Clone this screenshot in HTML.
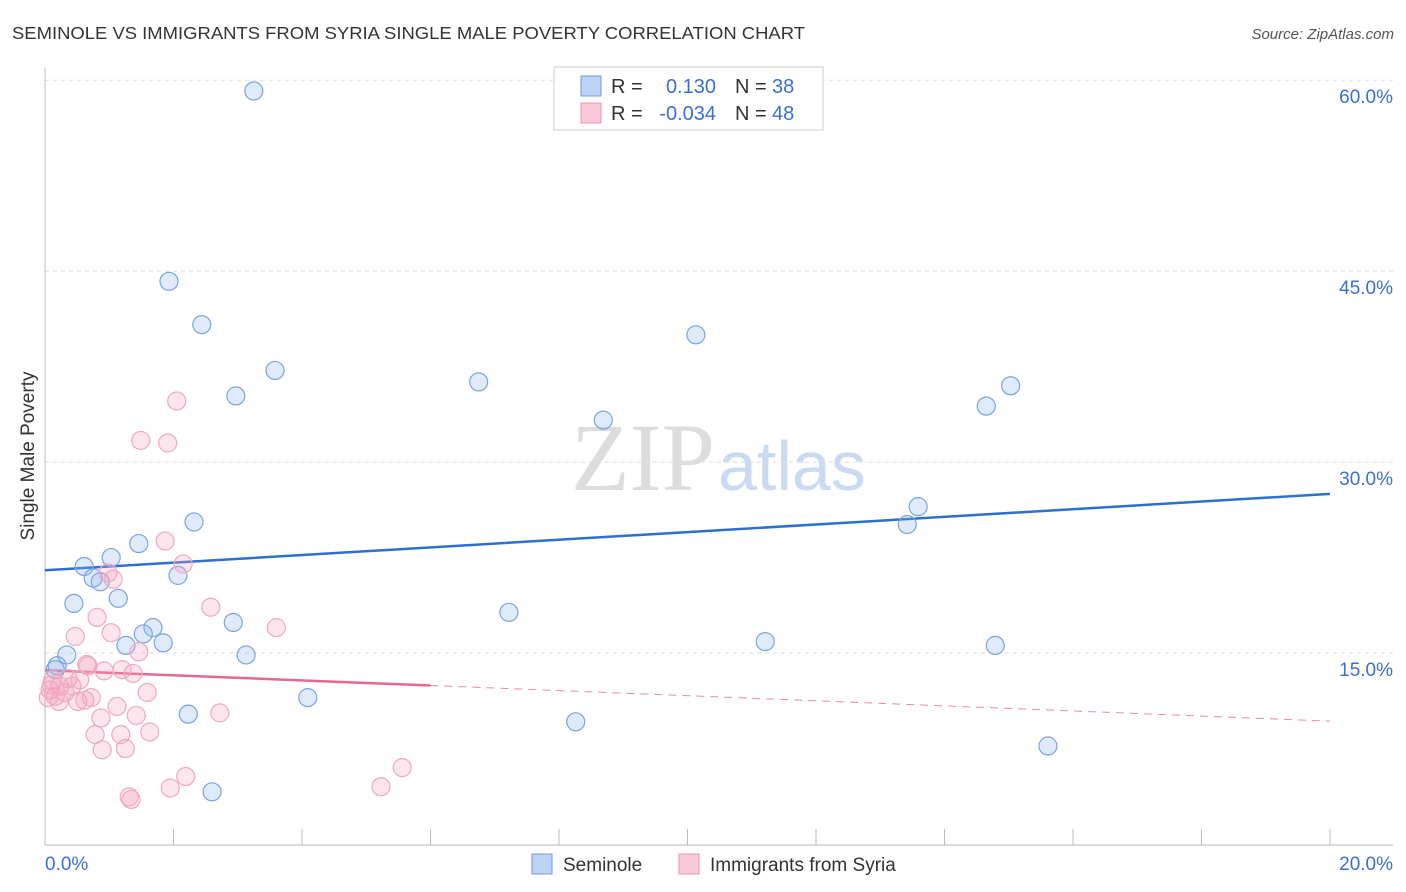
<!DOCTYPE html>
<html><head><meta charset="utf-8"><style>
body{margin:0;background:#fff;font-family:"Liberation Sans",sans-serif;}
svg{display:block}
</style></head><body>
<svg width="1406" height="892" xmlns="http://www.w3.org/2000/svg">
<text x="12" y="39" font-size="17.5" fill="#333" textLength="793" lengthAdjust="spacingAndGlyphs">SEMINOLE VS IMMIGRANTS FROM SYRIA SINGLE MALE POVERTY CORRELATION CHART</text>
<text x="1394" y="39" font-size="15" fill="#555" font-style="italic" text-anchor="end">Source: ZipAtlas.com</text>
<text x="715" y="490" font-size="96" fill="#ddd" text-anchor="end" font-family="Liberation Serif,serif">ZIP</text>
<text x="718" y="490" font-size="70" fill="#c9daf2">atlas</text>
<g id="grid"></g>
<g id="axes"></g>
<text transform="translate(34,456) rotate(-90)" font-size="19" fill="#333" text-anchor="middle">Single Male Poverty</text>
<text x="45" y="870" font-size="19" fill="#3b6fd4">0.0%</text>
<text x="1393" y="870" font-size="19" fill="#3b6fd4" text-anchor="end">20.0%</text>
<g id="trend"></g>
<g id="pts"></g>
<g>
<rect x="554" y="67" width="269" height="63" fill="#fff" stroke="#ccc"/>
<rect x="581" y="76" width="20" height="20" fill="#bcd3f5" stroke="#6d9be0"/>
<rect x="581" y="103" width="20" height="20" fill="#f9c9d7" stroke="#ec97b2"/>
<text x="611" y="93" font-size="20" fill="#333">R = </text><text x="716" y="93" font-size="20" fill="#3b6fd4" text-anchor="end">0.130</text>
<text x="735" y="93" font-size="20" fill="#333">N = </text><text x="772" y="93" font-size="20" fill="#3b6fd4">38</text>
<text x="611" y="120" font-size="20" fill="#333">R = </text><text x="716" y="120" font-size="20" fill="#3b6fd4" text-anchor="end">-0.034</text>
<text x="735" y="120" font-size="20" fill="#333">N = </text><text x="772" y="120" font-size="20" fill="#3b6fd4">48</text>
</g>
<g><rect x="532" y="854" width="20" height="20" fill="#bcd3f5" stroke="#6d9be0"/><text x="563" y="871" font-size="19" fill="#333">Seminole</text></g>
<g><rect x="679" y="854" width="20" height="20" fill="#f9c9d7" stroke="#ec97b2"/><text x="710" y="871" font-size="19" fill="#333">Immigrants from Syria</text></g>
</svg>
<script>
const yTicks=[15,30,45,60];
const xTicks=[0,2,4,6,8,10,12,14,16,18,20];
const blueX=[3.25,1.93,2.44,3.58,2.97,6.75,10.13,8.69,14.65,15.03,13.59,13.42,2.32,1.46,1.03,0.61,0.75,0.86,2.07,1.14,0.45,7.22,2.93,1.68,1.53,1.26,1.84,0.34,3.13,11.21,14.79,0.19,0.16,4.09,2.23,8.26,15.61,2.6];
const blueY=[59.15,44.2,40.8,37.2,35.2,36.3,40.0,33.3,34.4,36.0,26.5,25.1,25.3,23.6,22.5,21.8,20.9,20.6,21.1,19.3,18.9,18.2,17.4,17.0,16.5,15.6,15.8,14.85,14.85,15.9,15.6,14.0,13.7,11.5,10.2,9.6,7.7,4.1];
const pinkX=[2.05,1.49,1.91,1.87,2.15,0.98,1.06,2.58,0.81,3.6,0.47,1.03,1.46,0.65,0.67,0.92,1.2,1.37,0.12,0.36,0.54,0.23,0.42,0.08,0.31,0.16,0.62,0.51,0.72,1.59,0.22,0.05,1.12,0.87,1.42,2.72,0.78,1.18,1.63,0.89,1.25,2.19,1.95,1.31,1.34,5.23,5.56,0.1];
const pinkY=[34.8,31.7,31.5,23.8,22.0,21.3,20.8,18.6,17.8,17.0,16.3,16.6,15.1,14.1,14.0,13.6,13.7,13.4,12.9,13.0,12.9,12.4,12.4,12.1,11.9,11.6,11.3,11.2,11.5,11.9,11.2,11.5,10.8,9.9,10.1,10.3,8.6,8.6,8.8,7.4,7.5,5.3,4.4,3.7,3.5,4.5,6.0,12.5];
const blueTrend=[21.5,27.5];
const pinkTrend=[13.65,9.65];
const NS="http://www.w3.org/2000/svg";
const X=v=>45+v*64.25, Y=v=>844-v*12.73;
function mk(t,a,p){const e=document.createElementNS(NS,t);for(const k in a)e.setAttribute(k,a[k]);document.getElementById(p).appendChild(e);return e;}
yTicks.forEach(t=>{
 const l=mk('line',{x1:45,x2:1393,y1:Y(t),y2:Y(t),stroke:'#ddd','stroke-dasharray':'4,4'},'grid');
 
 
 const tx=mk('text',{x:1393,y:Y(t)+23,'font-size':19,fill:'#3b6fd4','text-anchor':'end'},'grid');
 tx.textContent=t.toFixed(1)+'%';
 
 
});
const ax=mk('line',{x1:45,x2:45,y1:68,y2:845,stroke:'#bbb'},'axes');


const bx=mk('line',{x1:45,x2:1393,y1:845,y2:845,stroke:'#bbb'},'axes');


xTicks.forEach(t=>{
 const l=mk('line',{x1:X(t),x2:X(t),y1:829,y2:845,stroke:'#bbb'},'axes');
 
 
});
blueX.forEach((x,i)=>{
 const c=mk('circle',{cx:X(x),cy:Y(blueY[i]),r:9,fill:'rgba(140,180,240,0.28)',stroke:'#7aa3e2','stroke-width':1.2},'pts');
 
 
});
pinkX.forEach((x,i)=>{
 const c=mk('circle',{cx:X(x),cy:Y(pinkY[i]),r:9,fill:'rgba(245,160,188,0.28)',stroke:'#f0a9c0','stroke-width':1.2},'pts');
 
 
});
const bt=mk('line',{x1:X(0),y1:Y(blueTrend[0]),x2:X(20),y2:Y(blueTrend[1]),stroke:'#2d6fd2','stroke-width':2.5},'trend');


const pm=pinkTrend[0]+(pinkTrend[1]-pinkTrend[0])*6/20;
const pt=mk('line',{x1:X(0),y1:Y(pinkTrend[0]),x2:X(6),y2:Y(pm),stroke:'#e86792','stroke-width':2.5},'trend');


const pd=mk('line',{x1:X(6),y1:Y(pm),x2:X(20),y2:Y(pinkTrend[1]),stroke:'#ec8aa8','stroke-width':1,'stroke-dasharray':'8,6'},'trend');


</script>
</body></html>
